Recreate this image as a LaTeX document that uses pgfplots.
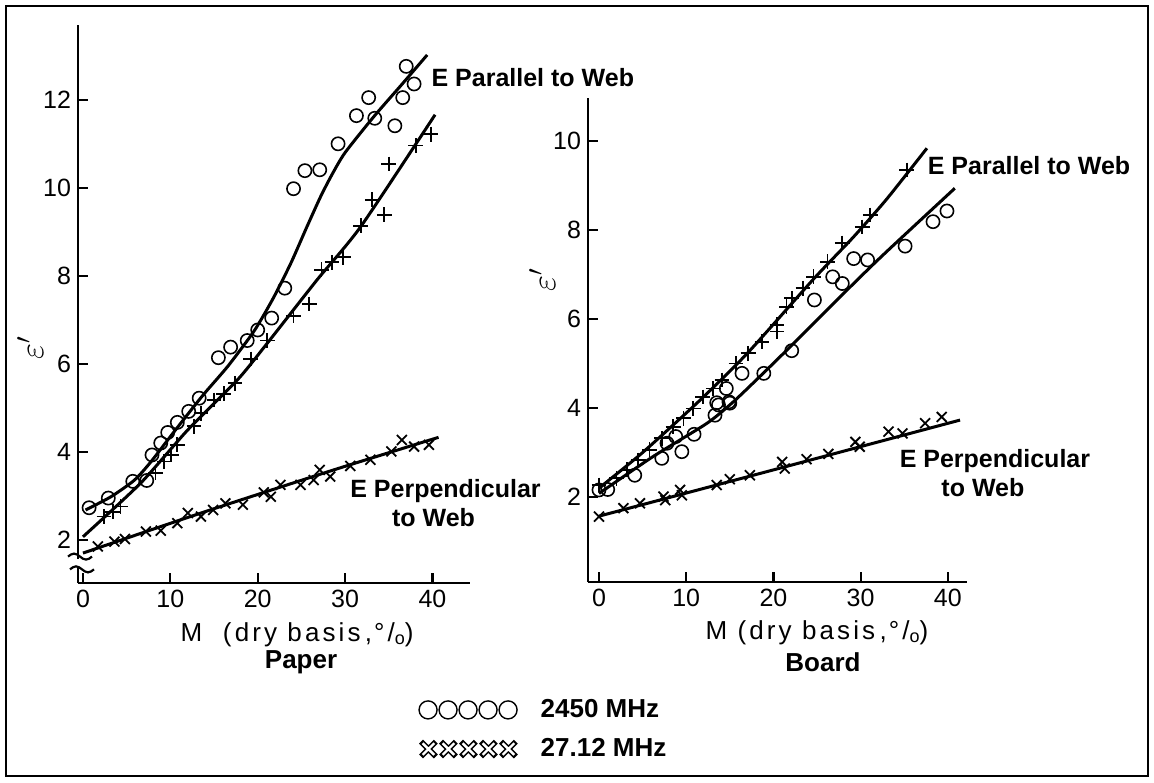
\documentclass[border=0pt]{standalone}
\usepackage{fontspec}
\setmainfont{Liberation Sans}
\usepackage{pgfplots}
\pgfplotsset{compat=1.18}

\pgfplotsset{
  paperax/.style={
    scale only axis, clip=false,
    axis x line=bottom, axis y line=left,
    axis line style={-, line width=1.3pt},
    every outer x axis line/.append style={-},
    every outer y axis line/.append style={-},
    tick align=inside, major tick length=5pt,
    tick style={black, line width=1.1pt},
    xtick={0,10,20,30,40},
    tick label style={font=\fontsize{12.5}{14}\selectfont},
    /pgf/number format/assume math mode=true,
    label style={font=\fontsize{13}{15}\selectfont\addfontfeatures{LetterSpace=12}},
  },
  fitline/.style={black, line width=1.5pt, smooth, tension=0.4, no markers, forget plot},
  circpts/.style={black, only marks, mark=o, mark size=3.3pt, mark options={line width=0.8pt}},
  pluspts/.style={black, only marks, mark=+, mark size=3.7pt, mark options={line width=0.9pt}},
  crosspts/.style={black, only marks, mark=x, mark size=3.5pt, mark options={line width=0.9pt}},
}
\tikzset{
  note/.style={font=\fontsize{12.5}{14.5}\selectfont\bfseries, align=center},
  under/.style={font=\fontsize{13}{15}\selectfont\bfseries},
}

\begin{document}
\begin{tikzpicture}
\useasboundingbox (0,0) rectangle (577pt,391pt);
\draw[line width=1pt] (3pt,3pt) rectangle (574pt,388pt);

% Paper
\begin{axis}[paperax,
  at={(39pt,99.5pt)}, anchor=south west,
  width=196pt, height=279pt,
  xmin=-0.57, xmax=44.3, ymin=1.02, ymax=13.7,
  ytick={2,4,6,8,10,12},
  xlabel={M\ \ (dry basis\,,\kern1pt°/\raisebox{-0.2ex}{\small o})},
  xlabel style={at={(rel axis cs:0.559,-0.093)}, anchor=center},
  ylabel={$\varepsilon'$},
  ylabel style={at={(rel axis cs:-0.122,0.421)}, anchor=center, font=\fontsize{18}{20}\selectfont},
  legend style={at={(rel axis cs:0.867,-0.2625)}, anchor=west, draw=none, fill=none,
    inner sep=0pt, column sep=9pt, row sep=5pt,
    font=\fontsize{13}{15}\selectfont\bfseries},
  legend cell align=left,
]
% E parallel, 2450 MHz
\addplot[circpts,
  legend image code/.code={\foreach \k in {0,...,4}{\draw[line width=0.7pt] (\k*10pt+4.5pt,0pt) circle[radius=4.5pt];}}]
  coordinates {
  (37.0,12.76) (37.9,12.36) (32.7,12.05) (36.6,12.05) (31.3,11.64) (33.4,11.58)
  (35.7,11.41) (29.2,11.00) (25.4,10.39) (27.1,10.41) (24.1,9.98) (23.1,7.72)
  (21.6,7.04) (20.0,6.77) (18.8,6.53) (16.9,6.38) (15.5,6.14) (13.3,5.22)
  (12.1,4.92) (10.8,4.67) (9.7,4.44) (8.9,4.20) (7.9,3.93) (7.3,3.35)
  (5.7,3.33) (2.9,2.95) (0.7,2.73)
};
\addlegendentry{2450 MHz}
\addplot[fitline] coordinates {
  (0.3,2.68) (3.2,2.98) (5.9,3.36) (7.8,3.78) (10.4,4.45) (13.7,5.28)
  (16.6,5.95) (19.6,6.75) (21.8,7.50) (23.8,8.29) (25.6,9.10) (27.2,9.80)
  (28.5,10.30) (30.0,10.80) (33.3,11.62) (36.5,12.35) (39.4,13.02)
};
% E parallel, 27.12 MHz
\addplot[pluspts, forget plot] coordinates {
  (39.8,11.22) (38.1,10.96) (35.0,10.54) (34.5,9.39) (33.1,9.73) (31.8,9.14)
  (29.8,8.42) (28.5,8.31) (27.3,8.14) (25.9,7.36) (24.1,7.09) (21.1,6.53)
  (19.2,6.11) (17.4,5.56) (16.1,5.32) (15.0,5.18) (13.5,4.88) (12.7,4.58)
  (10.8,4.16) (10.1,3.93) (9.3,3.78) (8.3,3.52) (4.3,2.76) (3.4,2.64) (2.4,2.53)
};
\addplot[fitline] coordinates {
  (0,2.07) (6.6,3.29) (12.0,4.50) (17.7,5.64) (21.1,6.47) (26.8,7.91)
  (31.8,9.12) (40.3,11.66)
};
% E perpendicular
\addplot[crosspts,
  legend image code/.code={\foreach \k in {0,...,4}{
    \draw[line width=2.8pt] (\k*10pt+1pt,-3.7pt) -- ++(7.4pt,7.4pt) (\k*10pt+1pt,3.7pt) -- ++(7.4pt,-7.4pt);
    \draw[white,line width=1.2pt] (\k*10pt+1.8pt,-2.9pt) -- ++(5.8pt,5.8pt) (\k*10pt+1.8pt,2.9pt) -- ++(5.8pt,-5.8pt);}}]
  coordinates {
  (1.7,1.85) (3.6,1.96) (4.8,2.02) (7.2,2.19) (8.9,2.21) (10.8,2.38) (12.0,2.61)
  (13.5,2.53) (14.9,2.68) (16.3,2.83) (18.3,2.80) (20.7,3.08) (21.5,2.98)
  (22.6,3.25) (24.9,3.25) (26.4,3.36) (27.1,3.59) (28.3,3.44) (30.6,3.68)
  (32.9,3.82) (35.3,4.01) (36.5,4.27) (37.9,4.12) (39.6,4.16)
};
\addlegendentry{27.12 MHz}
\addplot[fitline] coordinates {
  (0,1.70) (13.5,2.61) (28.7,3.59) (40.7,4.33)
};
\node[note, anchor=west] at (axis cs:39.1,12.5) {E Parallel to Web};
\node[note] at (axis cs:41.5,2.84) {E Perpendicular\\to Web\hspace*{12pt}};
\node[under] at (rel axis cs:0.569,-0.1416) {Paper};
\coordinate (brkA) at (axis cs:-0.57,1.62);
\coordinate (brkB) at (axis cs:-0.57,1.33);
\end{axis}
\fill[white] ([xshift=-2pt,yshift=-1pt]brkA) rectangle ([xshift=2pt,yshift=1pt]brkB);
\draw[line width=1.1pt] ([xshift=-5pt]brkA) sin ++(3pt,1.5pt) cos ++(3pt,-1.5pt) sin ++(3pt,-1.5pt) cos ++(3pt,1.5pt);
\draw[line width=1.1pt] ([xshift=-4pt]brkB) sin ++(3pt,1.5pt) cos ++(3pt,-1.5pt) sin ++(3pt,-1.5pt) cos ++(3pt,1.5pt);

% Board
\begin{axis}[paperax,
  at={(294pt,100pt)}, anchor=south west,
  width=189.5pt, height=242pt,
  xmin=-1.26, xmax=42.2, ymin=0.09, ymax=10.97,
  ytick={2,4,6,8,10},
  xlabel={M (dry basis\,,\kern1pt°/\raisebox{-0.2ex}{\small o})},
  xlabel style={at={(rel axis cs:0.604,-0.105)}, anchor=center},
  ylabel={$\varepsilon'$},
  ylabel style={at={(rel axis cs:-0.121,0.624)}, anchor=center, font=\fontsize{18}{20}\selectfont},
]
\addplot[pluspts] coordinates {
  (35.3,9.35) (31.1,8.34) (30.2,8.07) (27.9,7.71) (26.2,7.29) (24.6,6.95)
  (23.4,6.69) (22.1,6.47) (21.5,6.28) (20.4,5.87) (20.4,5.72) (18.7,5.49)
  (17.1,5.23) (15.7,5.00) (14.1,4.63) (13.1,4.44) (11.9,4.25) (10.8,3.99)
  (9.7,3.77) (8.5,3.58) (7.2,3.32) (5.8,3.06) (4.5,2.83) (3.2,2.61)
  (2.0,2.42) (0,2.27)
};
\addplot[fitline] coordinates {
  (0,2.20) (5.0,3.00) (11.6,4.18) (17.1,5.25) (24.6,6.90) (29.2,7.85)
  (33.0,8.70) (37.6,9.84)
};
\addplot[circpts] coordinates {
  (39.9,8.43) (38.3,8.19) (35.1,7.64) (30.8,7.33) (29.2,7.36) (27.9,6.80)
  (26.8,6.95) (24.7,6.43) (22.1,5.29) (18.9,4.78) (16.4,4.78) (14.6,4.44)
  (14.9,4.14) (13.5,4.12) (15.0,4.11) (13.7,4.07) (13.3,3.84) (10.9,3.41)
  (8.8,3.36) (9.5,3.02) (7.8,3.21) (7.2,2.87) (4.1,2.49) (1.0,2.17) (0,2.16)
};
\addplot[fitline] coordinates {
  (0,2.08) (6.2,2.91) (12.4,3.66) (15.4,4.14) (18.5,4.72) (22.3,5.45)
  (29.2,6.80) (33.0,7.52) (40.8,8.94)
};
\addplot[crosspts] coordinates {
  (0,1.56) (2.8,1.75) (4.7,1.86) (7.4,2.01) (7.6,1.93) (9.3,2.16) (9.5,2.04)
  (13.5,2.27) (15.0,2.40) (17.3,2.49) (21.0,2.79) (21.3,2.64) (23.8,2.85)
  (26.3,2.97) (29.4,3.24) (29.9,3.13) (33.2,3.47) (34.8,3.43) (37.4,3.66)
  (39.3,3.80)
};
\addplot[fitline] coordinates {
  (0,1.57) (20.0,2.61) (41.4,3.73)
};
\node[note, anchor=west] at (axis cs:36.9,9.46) {E Parallel to Web};
\node[note] at (axis cs:45.4,2.54) {E Perpendicular\\to Web\hspace*{12pt}};
\node[under] at (rel axis cs:0.620,-0.165) {Board};
\end{axis}
\end{tikzpicture}
\end{document}
